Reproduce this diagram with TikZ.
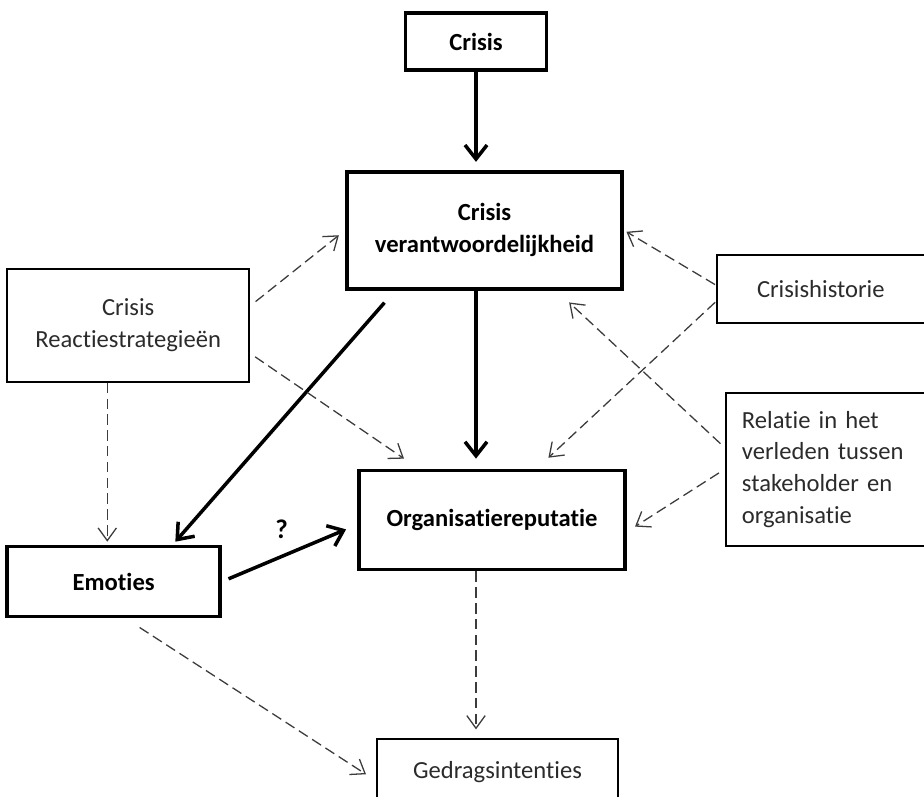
\documentclass[tikz,border=0pt]{standalone}
\usepackage{fontspec}
\setmainfont{Carlito}[Ligatures=NoCommon]
\usepackage{xcolor}
\definecolor{streep}{HTML}{3c3c3c}
\definecolor{tekst}{HTML}{2b2b2b}
\usepackage{tikz}
\usetikzlibrary{
  arrows.meta,
  positioning
}

\begin{document}
\begin{tikzpicture}[
  kernbox/.style={rectangle, draw=black, line width=3.2pt, font=\fontsize{21}{27}\selectfont\bfseries, align=center},
  bijbox/.style={rectangle, draw=black, line width=1.6pt, font=\fontsize{21}{27}\selectfont, text=tekst, align=center},
  arr/.style={-{Straight Barb[length=0.42cm, width=0.66cm]}, line width=3pt},
  darr/.style={-{Straight Barb[length=0.38cm, width=0.55cm]}, line width=1.1pt, streep, dash pattern=on 9pt off 4.5pt},
]
\useasboundingbox (0,0) rectangle (27.72,-23.91);

\node[kernbox, minimum width=4.23cm, minimum height=1.71cm] (crisis) at (14.28,-1.245) {Crisis};
\node[kernbox, minimum width=8.25cm, minimum height=3.51cm, below=2.94cm of crisis, xshift=0.255cm] (verantw) {Crisis\\verantwoordelijkheid};
\node[kernbox, minimum width=7.98cm, minimum height=2.97cm, below=5.34cm of verantw, xshift=0.225cm] (reputatie) {Organisatiereputatie};
\node[bijbox, minimum width=7.23cm, minimum height=1.98cm, below=5.01cm of reputatie, xshift=0.165cm] (gedrag) {Gedragsintenties};
\node[bijbox, minimum width=7.26cm, minimum height=3.39cm, left=2.85cm of verantw, yshift=-2.85cm] (reactie) {Crisis\\Reactiestrategieën};
\node[kernbox, minimum width=6.39cm, minimum height=2.1cm, below=4.86cm of reactie, xshift=-0.435cm] (emoties) {Emoties};
\node[bijbox, minimum width=6.24cm, minimum height=2.04cm, right=2.76cm of verantw, yshift=-1.755cm] (historie) {Crisishistorie};
\node[bijbox, minimum width=5.97cm, minimum height=4.59cm, text width=5.0cm, align=left, below=2.04cm of historie, xshift=0.135cm] (relatie) {Relatie in het\\verleden tussen\\stakeholder en\\organisatie};

\draw[arr, shorten >=0.24cm] (crisis.south) -- (verantw.north -| crisis.south);
\draw[arr, shorten >=0.3cm] (verantw.south -| crisis.south) -- (reputatie.north -| crisis.south);
\draw[arr, shorten <=0.48cm, shorten >=0.12cm] (verantw.-146) -- (emoties.32);
\draw[arr, shorten <=0.21cm, shorten >=0.36cm] (emoties.east) -- node[pos=0.44, above=0.36cm, font=\fontsize{23}{27}\selectfont\bfseries] (vraag) {?} (reputatie.182);

\draw[darr, shorten <=0.21cm, shorten >=0.24cm] (reactie.9) -- (verantw.west);
\draw[darr, shorten <=0.18cm, shorten >=0.53cm] (reactie.-13) -- (reputatie.145);
\draw[darr, shorten >=0.09cm] (reactie.-110) -- (reactie.-110 |- emoties.north);
\draw[darr, shorten <=0.03cm, shorten >=0.09cm] (historie.178) -- (verantw.east);
\draw[darr, shorten <=0.03cm, shorten >=0.48cm] (historie.-173) -- (reputatie.49);
\draw[darr, shorten <=0.18cm, shorten >=0.52cm] (relatie.168) -- (verantw.-40);
\draw[darr, shorten <=0.21cm, shorten >=0.29cm] (relatie.west) -- (reputatie.-5);
\draw[darr, shorten >=0.27cm] (reputatie.south -| crisis.south) -- (gedrag.north -| crisis.south);
\draw[darr, shorten <=0.5cm, shorten >=0.36cm] (emoties.-72) -- (gedrag.184);

\end{tikzpicture}
\end{document}
